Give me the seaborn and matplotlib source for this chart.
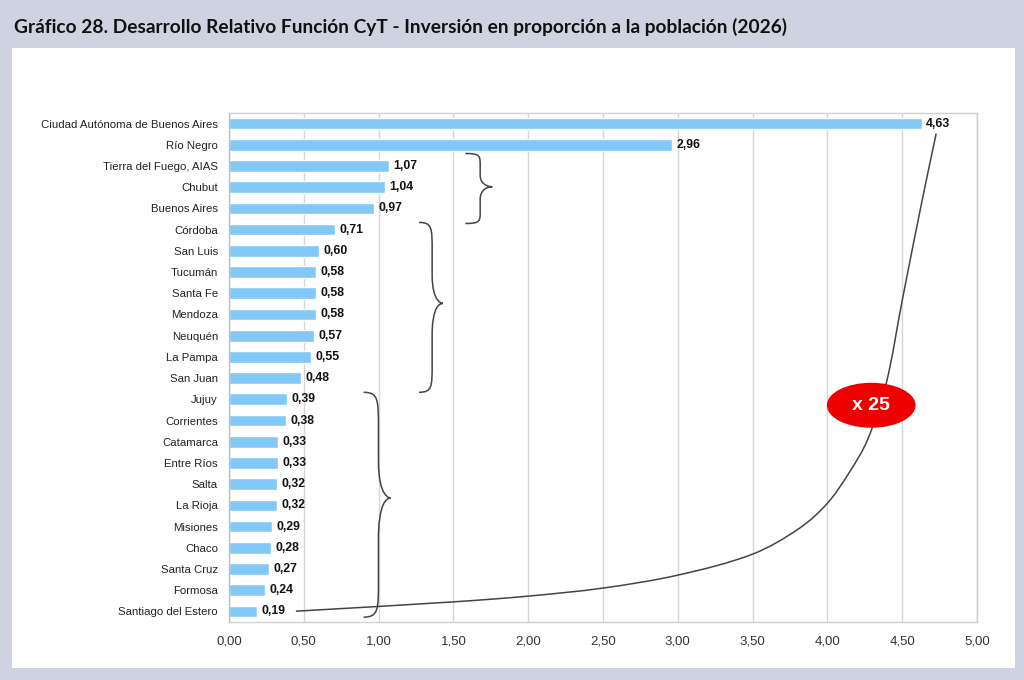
import numpy as np
import pandas as pd
import matplotlib
matplotlib.use("Agg")
import matplotlib.pyplot as plt
from matplotlib.patches import Rectangle, Ellipse, PathPatch
from matplotlib.path import Path
import seaborn as sns

# datos
provincias = [
    "Ciudad Autónoma de Buenos Aires", "Río Negro", "Tierra del Fuego, AIAS",
    "Chubut", "Buenos Aires", "Córdoba", "San Luis", "Tucumán", "Santa Fe",
    "Mendoza", "Neuquén", "La Pampa", "San Juan", "Jujuy", "Corrientes",
    "Catamarca", "Entre Ríos", "Salta", "La Rioja", "Misiones", "Chaco",
    "Santa Cruz", "Formosa", "Santiago del Estero",
]
valores = [4.63, 2.96, 1.07, 1.04, 0.97, 0.71, 0.60, 0.58, 0.58, 0.58, 0.57,
           0.55, 0.48, 0.39, 0.38, 0.33, 0.33, 0.32, 0.32, 0.29, 0.28, 0.27,
           0.24, 0.19]
xticks = [0, 0.5, 1, 1.5, 2, 2.5, 3, 3.5, 4, 4.5, 5]
titulo = "Gráfico 28. Desarrollo Relativo Función CyT - Inversión en proporción a la población (2026)"

df = pd.DataFrame({"provincia": provincias, "valor": valores})

def coma(v):
    return f"{v:.2f}".replace(".", ",")

#%%
sns.set_style("white")
plt.rcParams["font.family"] = ["Liberation Sans", "DejaVu Sans"]

W, H = 1024, 680
fig = plt.figure(figsize=(W / 100, H / 100), dpi=100)
fig.patch.set_facecolor("#cfd3e1")
fig.patches.append(Rectangle((12 / W, 1 - 668 / H), (1015 - 12) / W, (668 - 48) / H,
                             transform=fig.transFigure, facecolor="white",
                             edgecolor="none", zorder=-5))
fig.text(14 / W, 1 - 27 / H, titulo, fontsize=13.8, fontweight="bold",
         family=["Lato", "DejaVu Sans"], va="center", ha="left", color="#111111")

ax = fig.add_axes([229 / W, 1 - 622 / H, (977 - 229) / W, (622 - 113) / H])
sns.barplot(data=df, x="valor", y="provincia", orient="h", color="#82c9f8",
            saturation=1, width=0.55, ax=ax)
ax.set_xlim(0, 5)
ax.set_xlabel("")
ax.set_ylabel("")
ax.set_axisbelow(True)
ax.xaxis.grid(True, color="#d6d6d6", lw=1)

ax.set_xticks(xticks)
ax.set_xticklabels([coma(t) for t in xticks], fontsize=9.5, color="#333333")
ax.tick_params(axis="x", length=5, width=1, color="#c8c8c8", pad=5)
ax.tick_params(axis="y", which="major", length=0, pad=8, labelsize=8.2, labelcolor="#222222")
ax.set_yticks(np.arange(-0.5, len(provincias), 1), minor=True)
ax.tick_params(axis="y", which="minor", length=5, width=1, color="#c8c8c8")
for s in ax.spines.values():
    s.set_color("#d0d0d0")
    s.set_linewidth(1)
ax.spines["left"].set_color("#bdbdbd")

for i, v in enumerate(valores):
    ax.text(v + 0.03, i, coma(v), va="center", ha="left", fontsize=8.8,
            fontweight="bold", color="#111111")

# llaves
def llave(x0, x1, y0, y1, ym):
    xm = x0 + 0.55 * (x1 - x0)
    q = 0.35 * min(ym - y0, y1 - ym)
    verts = [(x0, y0), (xm, y0), (xm, y0 + q * 0.2), (xm, y0 + q),
             (xm, ym - q), (xm, ym), (x1, ym), (x1, ym),
             (xm, ym), (xm, ym + q), (xm, ym + q),
             (xm, y1 - q), (xm, y1 - q * 0.2), (xm, y1), (x0, y1)]
    codes = [Path.MOVETO, Path.CURVE4, Path.CURVE4, Path.CURVE4,
             Path.LINETO, Path.CURVE4, Path.CURVE4, Path.LINETO,
             Path.CURVE4, Path.CURVE4, Path.CURVE4,
             Path.LINETO, Path.CURVE4, Path.CURVE4, Path.CURVE4]
    ax.add_patch(PathPatch(Path(verts, codes), facecolor="none",
                           edgecolor="#444444", lw=1.1, zorder=5, clip_on=False))

llave(1.58, 1.76, 1.41, 4.71, 2.98)
llave(1.27, 1.43, 4.66, 12.67, 8.48)
llave(0.90, 1.08, 12.67, 23.27, 17.66)

# curva (suavizada en espacio de pantalla)
cx = np.array([0.447, 1.48, 2.0, 2.5, 3.0, 3.5, 3.813, 4.0, 4.147, 4.267, 4.393, 4.5, 4.633, 4.727])
cy = np.array([22.99, 22.56, 22.28, 21.9, 21.29, 20.3, 19.08, 17.9, 16.44, 14.93, 12.25, 8.34, 3.63, 0.47])
esc = np.array([150.0, 21.23])
P = np.column_stack([cx, cy]) * esc
T = np.zeros_like(P)
T[0] = P[1] - P[0]
T[-1] = P[-1] - P[-2]
T[1:-1] = P[2:] - P[:-2]
T = T / np.linalg.norm(T, axis=1)[:, None]
verts = [tuple(P[0] / esc)]
codes = [Path.MOVETO]
for k in range(len(P) - 1):
    d = np.linalg.norm(P[k + 1] - P[k])
    c1 = P[k] + T[k] * d / 3
    c2 = P[k + 1] - T[k + 1] * d / 3
    verts += [tuple(c1 / esc), tuple(c2 / esc), tuple(P[k + 1] / esc)]
    codes += [Path.CURVE4] * 3
ax.add_patch(PathPatch(Path(verts, codes), facecolor="none", edgecolor="#444444",
                       lw=1.1, zorder=5, clip_on=False))

ax.add_patch(Ellipse((4.293, 13.28), 0.593, 2.12, facecolor="#ee0000",
                     edgecolor="none", zorder=6))
ax.text(4.293, 13.28, "x 25", color="white", fontsize=14, fontweight="bold",
        ha="center", va="center", zorder=7)

fig.savefig("out.png", dpi=100, facecolor=fig.get_facecolor())
